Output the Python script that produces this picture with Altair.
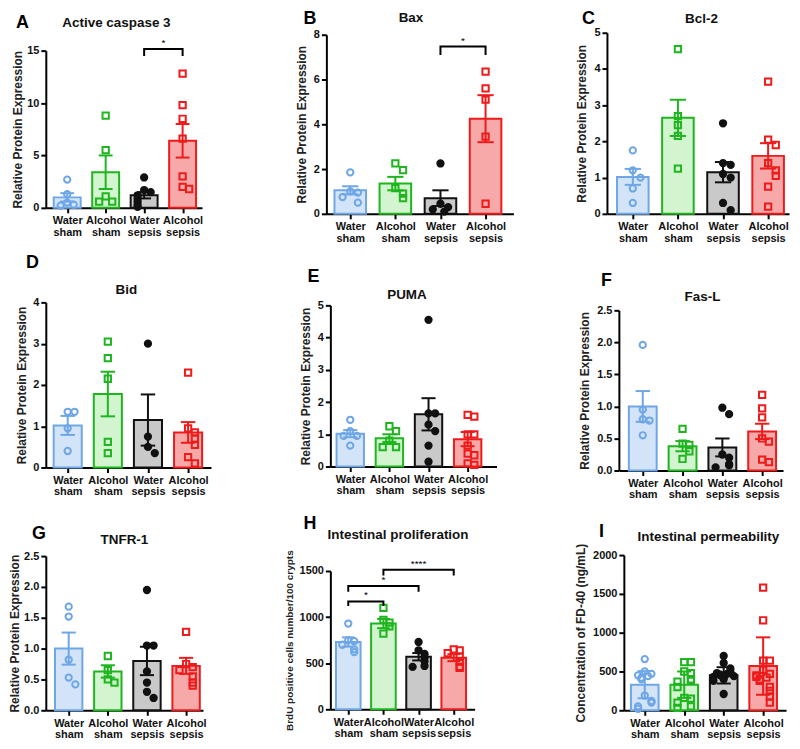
import altair as alt
import pandas as pd

# ---------------- data ----------------
GROUPS = ["Water sham", "Alcohol sham", "Water sepsis", "Alcohol sepsis"]

A_MEAN = [1.0, 3.4, 1.2, 6.4]
A_SEM = [0.4, 1.6, 0.3, 1.6]
A_PTS = [[2.7, 1.3, 0.5, 0.3, 0.2],
         [8.8, 5.5, 1.1, 0.6, 0.6],
         [2.9, 1.7, 1.5, 1.2, 0.9, 0.6, 0.3, 0.1],
         [12.8, 9.8, 8.5, 6.6, 3.0, 2.0, 1.8]]
A_BRACKETS = [(2, 3, 15.15, 14.5, "*")]

B_MEAN = [1.05, 1.35, 0.7, 4.25]
B_SEM = [0.18, 0.3, 0.35, 1.05]
B_PTS = [[1.85, 1.0, 0.95, 0.75, 0.5],
         [2.25, 1.95, 1.15, 0.9, 0.7],
         [2.25, 0.45, 0.3, 0.2, 0.1],
         [6.35, 5.6, 5.1, 3.45, 0.45]]
B_BRACKETS = [(2, 3, 7.47, 7.1, "*")]

C_MEAN = [1.02, 2.65, 1.15, 1.6]
C_SEM = [0.22, 0.5, 0.28, 0.35]
C_PTS = [[1.75, 1.2, 1.0, 0.7, 0.3],
         [4.55, 2.7, 2.45, 2.15, 1.25],
         [2.5, 1.4, 1.35, 1.1, 1.0, 0.3, 0.1],
         [3.65, 2.05, 1.9, 1.4, 1.2, 1.05, 0.75, 0.2]]

D_MEAN = [1.02, 1.78, 1.15, 0.85]
D_SEM = [0.23, 0.54, 0.62, 0.25]
D_PTS = [[1.35, 1.35, 0.95, 0.4],
         [3.05, 2.65, 2.15, 0.62, 0.35],
         [3.0, 0.75, 0.5, 0.35],
         [2.3, 0.95, 0.85, 0.7, 0.55, 0.25, 0.1]]

E_MEAN = [1.02, 0.88, 1.62, 0.85]
E_SEM = [0.11, 0.12, 0.5, 0.22]
E_PTS = [[1.45, 1.1, 0.95, 0.95, 0.65],
         [1.25, 1.1, 0.8, 0.6, 0.6],
         [4.55, 1.65, 1.65, 1.3, 1.1, 0.65, 0.15],
         [1.6, 1.55, 1.0, 1.0, 0.65, 0.4, 0.35, 0.1, 0.05]]

F_MEAN = [1.0, 0.38, 0.36, 0.61]
F_SEM = [0.24, 0.08, 0.14, 0.12]
F_PTS = [[1.96, 0.95, 0.8, 0.78, 0.55],
         [0.65, 0.42, 0.4, 0.3, 0.18],
         [0.98, 0.88, 0.25, 0.2, 0.1, 0.08, 0.05],
         [1.18, 0.97, 0.83, 0.5, 0.45, 0.17, 0.13]]

G_MEAN = [1.0, 0.63, 0.8, 0.72]
G_SEM = [0.26, 0.1, 0.23, 0.13]
G_PTS = [[1.68, 1.52, 0.82, 0.53, 0.42],
         [0.88, 0.65, 0.5, 0.45],
         [1.95, 1.05, 1.05, 0.63, 0.45, 0.3, 0.2],
         [1.27, 0.75, 0.7, 0.65, 0.55, 0.45, 0.4]]

H_MEAN = [730, 930, 570, 560]
H_SEM = [50, 50, 40, 38]
H_PTS = [[930, 750, 740, 700, 650, 620],
         [1100, 970, 940, 900, 820],
         [730, 640, 600, 560, 520, 470, 460],
         [650, 640, 610, 570, 520, 460, 450]]
H_BRACKETS = [(0, 1, 1170, 1120, "*"), (0, 2, 1336, 1276, "*"), (1, 3, 1514, 1451, "****")]

I_MEAN = [330, 330, 450, 570]
I_SEM = [175, 170, 105, 370]
I_PTS = [[660, 500, 470, 450, 440, 420, 400, 190, 120, 100, 50, 20],
         [620, 620, 500, 480, 400, 380, 370, 300, 160, 150, 100, 50, 30],
         [700, 610, 540, 500, 480, 470, 460, 450, 440, 430, 420, 400, 380, 210],
         [1580, 1160, 640, 640, 520, 470, 450, 430, 420, 400, 380, 300, 250, 180, 100]]

# ---------------- style / layout ----------------
FILL = ["#d3e4f8", "#d2f5cf", "#c9c9c9", "#f7a9a9"]
STROKE = ["#6ea6e6", "#1fb51f", "#111111", "#ee1b1b"]
PT_FILL = ["transparent", "transparent", "#111111", "transparent"]
SHAPES = ["circle", "square", "circle", "square"]
FONT = "Liberation Sans"
RPE = "Relative Protein Expression"

PANELS = [
    [dict(letter="A", title="Active caspase 3", ytitle=RPE, ymax=15, ystep=5, fmt="d",
          mean=A_MEAN, sem=A_SEM, pts=A_PTS, br=A_BRACKETS, ov=3, tpad=2, tsize=12,
          ax=40, right=197, c1=61.5, c4=177.5, top=49, bottom=207, lxy=(10, 12), txy=(111, 21)),
     dict(letter="B", title="Bax", ytitle=RPE, ymax=8, ystep=2, fmt="d",
          mean=B_MEAN, sem=B_SEM, pts=B_PTS, br=B_BRACKETS, ov=0, tpad=5, tsize=12,
          ax=325, right=513, c1=349, c4=485, top=33, bottom=213, lxy=(302, 8), txy=(410, 16)),
     dict(letter="C", title="Bcl-2", ytitle=RPE, ymax=5, ystep=1, fmt="d",
          mean=C_MEAN, sem=C_SEM, pts=C_PTS, br=[], ov=0, tpad=5, tsize=12,
          ax=607, right=790, c1=633, c4=769, top=31, bottom=213, lxy=(582, 8), txy=(702, 17))],
    [dict(letter="D", title="Bid", ytitle=RPE, ymax=4, ystep=1, fmt="d",
          mean=D_MEAN, sem=D_SEM, pts=D_PTS, br=[], ov=0, tpad=4, tsize=12,
          ax=42, right=208, c1=64, c4=185, top=302, bottom=468, lxy=(22, 253), txy=(123, 290)),
     dict(letter="E", title="PUMA", ytitle=RPE, ymax=5, ystep=1, fmt="d",
          mean=E_MEAN, sem=E_SEM, pts=E_PTS, br=[], ov=0, tpad=5, tsize=12,
          ax=328, right=495, c1=348, c4=466, top=305, bottom=467, lxy=(305, 268), txy=(405, 295)),
     dict(letter="F", title="Fas-L", ytitle=RPE, ymax=2.5, ystep=0.5, fmt=".1f",
          mean=F_MEAN, sem=F_SEM, pts=F_PTS, br=[], ov=0, tpad=5, tsize=12,
          ax=618, right=783, c1=642, c4=762, top=310, bottom=471, lxy=(600, 272), txy=(702, 297))],
    [dict(letter="G", title="TNFR-1", ytitle=RPE, ymax=2.5, ystep=0.5, fmt=".1f",
          mean=G_MEAN, sem=G_SEM, pts=G_PTS, br=[], ov=7, tpad=2, tsize=12,
          ax=39, right=197, c1=62, c4=180, top=557, bottom=712, lxy=(25, 526), txy=(118, 541)),
     dict(letter="H", title="Intestinal proliferation", ytitle="BrdU positive cells number/100 crypts",
          ymax=1500, ystep=500, fmt="d",
          mean=H_MEAN, sem=H_SEM, pts=H_PTS, br=H_BRACKETS, ov=0, tpad=5, tsize=10,
          ax=332, right=477, c1=350, c4=456, top=572, bottom=711, lxy=(305, 516), txy=(400, 536)),
     dict(letter="I", title="Intestinal permeability", ytitle="Concentration of FD-40 (ng/mL)",
          ymax=2000, ystep=500, fmt="d",
          mean=I_MEAN, sem=I_SEM, pts=I_PTS, br=[], ov=0, tpad=5, tsize=12,
          ax=627, right=790, c1=648, c4=767, top=556, bottom=712, lxy=(602, 524), txy=(712, 538))],
]
COLS = [(8, 262), (262, 527), (527, 792)]
ROWS = [(8, 250), (250, 505), (505, None)]

fill_scale = alt.Scale(domain=GROUPS, range=FILL)
stroke_scale = alt.Scale(domain=GROUPS, range=STROKE)
ptfill_scale = alt.Scale(domain=GROUPS, range=PT_FILL)
shape_scale = alt.Scale(domain=GROUPS, range=SHAPES)

LABEL_EXPR = "split(['Water sham','Alcohol sham','Water sepsis','Alcohol sepsis'][datum.value], ' ')"


def jitter(vals, ymax):
    pattern = [0, 0.17, -0.17, 0.085, -0.085, 0.26, -0.26]
    out, placed = [], []
    for v in vals:
        k = sum(1 for u in placed if abs(u - v) < ymax * 0.045)
        out.append(pattern[k % len(pattern)])
        placed.append(v)
    return out


def build(p, col, row, row_top_px, row_bot_px):
    ax = p["ax"]
    T = row_top_px            # common plot origin (y) of the row
    w = p["right"] - ax
    H = row_bot_px - T        # common plot height of the row
    step = (p["c4"] - p["c1"]) / 3
    d0 = -(p["c1"] - ax) / step
    d1 = 3 + (p["right"] - p["c4"]) / step
    xs = alt.Scale(domain=[d0, d1], nice=False, zero=False)
    ys = alt.Scale(domain=[0, p["ymax"]], nice=False, zero=False,
                   range=[p["bottom"] - T, p["top"] - T])
    nt = int(round(p["ymax"] / p["ystep"]))
    yvals = [round(k * p["ystep"], 3) for k in range(nt + 1)]

    xaxis = alt.Axis(values=[0, 1, 2, 3], labelExpr=LABEL_EXPR, title=None, grid=False,
                     domainColor="black", domainWidth=2, tickColor="black", tickWidth=2,
                     tickSize=5, labelFont=FONT, labelFontSize=11, labelFontWeight="bold",
                     labelColor="#111", labelPadding=2, labelLineHeight=11.5,
                     labelOverlap=False, labelFlush=False, offset=p["bottom"] - row_bot_px)
    yaxis = alt.Axis(values=yvals, format=p["fmt"], title=p["ytitle"], grid=False,
                     domainColor="black", domainWidth=2, tickColor="black", tickWidth=2,
                     tickSize=5, labelFont=FONT, labelFontSize=11, labelFontWeight="bold",
                     labelColor="#111", labelPadding=2, titleFont=FONT, titleFontSize=p["tsize"],
                     titleFontWeight="bold", titleColor="#222", titlePadding=p["tpad"],
                     labelOverlap=False)

    def X(f):
        return alt.X(f, scale=xs, axis=xaxis)

    def Y(f):
        return alt.Y(f, scale=ys, axis=yaxis)

    bars = pd.DataFrame({"g": GROUPS, "i": list(range(4)), "m": p["mean"], "s": p["sem"]})
    bars["l"] = bars["i"] - 0.35
    bars["r"] = bars["i"] + 0.35
    bars["lo"] = bars["m"] - bars["s"]
    bars["hi"] = bars["m"] + bars["s"]
    bars["cl"] = bars["i"] - 0.18
    bars["cr"] = bars["i"] + 0.18

    rows = []
    for gi, vals in enumerate(p["pts"]):
        for v, j in zip(vals, jitter(vals, p["ymax"])):
            rows.append({"g": GROUPS[gi], "x": gi + j, "v": v})
    pts = pd.DataFrame(rows)

    stroke_enc = alt.Stroke("g:N", scale=stroke_scale, legend=None)
    bar = alt.Chart(bars).mark_bar(strokeWidth=2).encode(
        x=X("l:Q"), x2="r:Q", y=Y("m:Q"), y2=alt.datum(0),
        color=alt.Color("g:N", scale=fill_scale, legend=None), stroke=stroke_enc)
    err = alt.Chart(bars).mark_rule(strokeWidth=2).encode(
        x=X("i:Q"), y=Y("lo:Q"), y2="hi:Q", stroke=stroke_enc)
    cap_hi = alt.Chart(bars).mark_rule(strokeWidth=2).encode(
        x=X("cl:Q"), x2="cr:Q", y=Y("hi:Q"), stroke=stroke_enc)
    cap_lo = alt.Chart(bars).mark_rule(strokeWidth=2).encode(
        x=X("cl:Q"), x2="cr:Q", y=Y("lo:Q"), stroke=stroke_enc)
    points = alt.Chart(pts).mark_point(size=40, strokeWidth=2, opacity=1).encode(
        x=X("x:Q"), y=Y("v:Q"),
        shape=alt.Shape("g:N", scale=shape_scale, legend=None),
        stroke=stroke_enc,
        fill=alt.Fill("g:N", scale=ptfill_scale, legend=None))

    # invisible anchor fixing the panel's bounding box inside the grid cell
    cl, cr = col
    rt, rb = row
    y2 = (rb - T) if rb is not None else (rt - T)
    anchor = alt.Chart(pd.DataFrame({"a": [0]})).mark_rule(opacity=0, strokeWidth=1).encode(
        x=alt.value(cl - ax), x2=alt.value(cr - ax - p["ov"]),
        y=alt.value(rt - T), y2=alt.value(y2))

    letter = alt.Chart(pd.DataFrame({"t": [p["letter"]]})).mark_text(
        align="left", baseline="top", font=FONT, fontSize=18, fontWeight="bold", color="black"
    ).encode(x=alt.value(p["lxy"][0] - ax), y=alt.value(p["lxy"][1] - T), text="t:N")
    title = alt.Chart(pd.DataFrame({"t": [p["title"]]})).mark_text(
        align="center", baseline="middle", font=FONT, fontSize=13.5, fontWeight="bold", color="#111"
    ).encode(x=alt.value(p["txy"][0] - ax), y=alt.value(p["txy"][1] - T), text="t:N")

    layers = [anchor, bar, err, cap_hi, cap_lo, points]

    if p["br"]:
        brows, srows = [], []
        for k, (i1, i2, yt, yb, lab) in enumerate(p["br"]):
            brows += [{"k": k, "o": 0, "x": i1, "y": yb}, {"k": k, "o": 1, "x": i1, "y": yt},
                      {"k": k, "o": 2, "x": i2, "y": yt}, {"k": k, "o": 3, "x": i2, "y": yb}]
            srows.append({"x": (i1 + i2) / 2, "y": yt, "t": lab})
        brk = alt.Chart(pd.DataFrame(brows)).mark_line(color="black", strokeWidth=2).encode(
            x=X("x:Q"), y=Y("y:Q"), detail="k:N", order="o:Q")
        star = alt.Chart(pd.DataFrame(srows)).mark_text(
            baseline="bottom", dy=-1, font=FONT, fontSize=10, color="black").encode(
            x=X("x:Q"), y=Y("y:Q"), text="t:N")
        layers += [brk, star]

    layers += [letter, title]
    return alt.layer(*layers).properties(width=w, height=H)


rows_charts = []
for r, row_panels in enumerate(PANELS):
    T = min(p["top"] for p in row_panels)
    B = max(p["bottom"] for p in row_panels)
    cells = [build(p, COLS[c], ROWS[r], T, B) for c, p in enumerate(row_panels)]
    rows_charts.append(alt.hconcat(*cells, spacing=0))

chart = alt.vconcat(*rows_charts, spacing=0).properties(padding=0).configure_view(stroke=None)

chart.save("out.html", embed_options={"renderer": "svg", "actions": False})
